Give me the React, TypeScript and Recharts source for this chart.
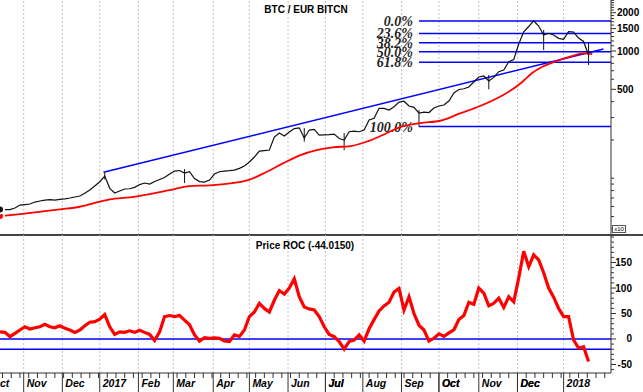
import React from 'react';
import { ComposedChart, Line, XAxis, YAxis, ReferenceLine } from 'recharts';

// x = bar number (one bar ~ one day), sampled every 4 bars
const STEP = 4;

const close = [
  56.9, 56.7, 56.7, 58.3, 61.5, 62.1, 62.7, 65.0, 66.2, 67.4,
  67.9, 67.4, 68.3, 68.8, 69.9, 71.2, 72.5, 76.1, 80.8, 86.8,
  93.9, 104.1, 83.3, 76.5, 79.3, 82.3, 82.7, 84.8, 89.2, 91.7,
  90.0, 94.2, 97.7, 101.3, 107.9, 113.9, 115.0, 109.9, 112.5, 99.5,
  94.2, 93.3, 96.8, 107.9, 112.5, 113.9, 114.6, 116.0, 119.6, 124.7,
  134.1, 146.8, 163.6, 165.1, 166.6, 210.8, 226.6, 214.7, 230.8, 245.9,
  249.0, 207.0, 239.3, 242.4, 218.6, 219.6, 220.6, 222.6, 205.2, 199.7,
  232.1, 235.0, 232.1, 239.3, 286.8, 295.8, 354.4, 354.4, 343.8, 364.9,
  397.2, 403.0, 369.5, 360.9, 325.5, 331.4, 328.5, 356.4, 369.5, 376.3,
  404.5, 467.6, 498.1, 505.4, 521.2, 570.6, 624.7, 636.1, 581.1, 620.4,
  687.6, 709.0, 823.9, 857.4, 1135, 1418, 1558, 1730, 1573, 1336,
  1378, 1336, 1258, 1236, 1418, 1411, 1265, 1188, 930,
];

const roc = [
  14, 13, 4.5, 11, 17.6, 24, 19.6, 22, 24, 29,
  24, 22, 26, 21, 17.6, 13, 17.6, 26, 33, 34,
  39, 48, 24, 9, 14, 13, 16, 13, 17, 13,
  9, -3, 14, 44, 46, 44, 46, 37, 28, 8,
  -4, 2.5, 1.4, 2, 1.4, -4, -5, 8, 5, 17.6,
  44, 53, 70, 60, 53, 76, 95, 88, 100, 118,
  83, 63, 59, 57, 44, 24, 9, 4.5, -5, -20,
  -5, -2, 8, -4, 20, 38, 55, 65, 72, 92,
  99, 57, 83, 50, 27, 17.6, -4, 1.4, 10, 5,
  12, 18, 38, 46, 72, 68, 100, 90, 65, 70,
  80, 62, 83, 73, 120, 172, 142, 165, 155, 130,
  100, 82, 60, 44, 44, -2, -18, -15, -44,
];

// moving average (red), read at its own bars
const maBars = [0, 16, 32, 48, 64, 80, 88, 104, 120, 136, 152, 168, 199, 214, 227, 241, 254, 267, 281, 294, 307, 321, 337, 353, 369, 385, 401, 411, 419, 427, 435, 447, 457, 468, 475];
const maValues = [50.4, 52.3, 54.5, 56.9, 59.7, 65.4, 68.3, 70.8, 75.1, 80.8, 86.8, 87.9, 96.8, 112.5, 131.0, 152.2, 166.6, 175.0, 179.1, 193.6, 218.6, 252.6, 271.6, 283.1, 323.7, 369.5, 437.3, 500.0, 573.7, 675.2, 752.8, 838.9, 902.1, 959.2, 947];

// visible long bars (high-low wicks)
const wickBars = [84, 148, 244, 276, 336, 392, 436, 472];
const wickLow = [98, 91.7, 193.6, 166.6, 255, 500, 1018, 776];
const wickHigh = [111, 118, 248, 226.6, 344, 648, 1463, 1156];

// trend line through the January 2017 high
const trendBars = [83, 484];
const trendValues = [111.3, 1037];

// Fibonacci retracement between the September low and the December high
const fibHigh = 1722;
const fibLow = 255;
const fibStartBar = 336;
const fibRatios = [0, 0.236, 0.382, 0.5, 0.618, 1];
const fibLabels = ['0.0%', '23.6%', '38.2%', '50.0%', '61.8%', '100.0%'];

const monthBars = [-9, 19, 50, 80, 111, 139, 171, 200, 231, 261, 291, 322, 352, 384, 415, 452];
const monthLabels = ['Oct', 'Nov', 'Dec', '2017', 'Feb', 'Mar', 'Apr', 'May', 'Jun', 'Jul', 'Aug', 'Sep', 'Oct', 'Nov', 'Dec', '2018'];

const priceLabels = [500, 1000, 1500, 2000];
const priceMinor = [40, 50, 60, 70, 80, 90, 100, 200, 300, 400, 600, 700, 800, 900, 1100, 1200, 1300, 1400, 1600, 1700, 1800, 1900, 2100, 2200, 2300, 2400, 2500];
const rocLabels = [-50, 0, 50, 100, 150];
const rocLevels = [0, -20];

const X_DOMAIN: [number, number] = [0, 490];
const W = 643;
const TOP_H = 235;
const BOT_H = 157;
const AXIS_W = 32;

const sans = '"Liberation Sans", Arial, sans-serif';
const serif = '"Liberation Serif", "Times New Roman", serif';
const BLUE = '#0000ff';
const RED = '#ff0000';
const GRID = '#c4c4c4';

const priceData = close.map((c, i) => ({ bar: i * STEP, close: c }));
const rocData = roc.map((r, i) => ({ bar: i * STEP, roc: r }));
const maData = maBars.map((b, i) => ({ bar: b, ma: maValues[i] }));

const weekTicks: number[] = [];
for (let b = 2; b <= 488; b += 7) weekTicks.push(b);
const xTicks = [...monthBars, ...weekTicks].sort((a, b) => a - b);

const rocTicks: number[] = [];
for (let v = -60; v <= 200; v += 10) rocTicks.push(v);

const PriceTick = ({ x, y, payload }: any) => {
  const major = priceLabels.includes(payload.value);
  return (
    <g>
      <line x1={x} x2={x + (major ? 5 : 3)} y1={y} y2={y} stroke="#333" />
      {major && (
        <text x={x + 6} y={y} dy={3.5} fontSize={10} fontWeight="bold" fontFamily={sans} fill="#000">
          {payload.value}
        </text>
      )}
    </g>
  );
};

const RocTick = ({ x, y, payload }: any) => {
  const major = rocLabels.includes(payload.value);
  return (
    <g>
      <line x1={x} x2={x + (major ? 5 : 3)} y1={y} y2={y} stroke="#333" />
      {major && (
        <text x={x + 21} y={y} dy={3.5} textAnchor="end" fontSize={10} fontWeight="bold" fontFamily={sans} fill="#000">
          {payload.value}
        </text>
      )}
    </g>
  );
};

const DateTick = ({ x, y, payload }: any) => {
  const idx = monthBars.indexOf(payload.value);
  return (
    <g>
      <line x1={x} x2={x} y1={y} y2={y + (idx >= 0 ? 19 : 5)} stroke="#333" />
      {idx >= 0 && (
        <text x={x + 3} y={y + 14} fontSize={10.5} fontWeight="bold" fontStyle="italic" fontFamily={sans} fill="#000">
          {monthLabels[idx]}
        </text>
      )}
    </g>
  );
};

const fibLabel = (text: string) => (props: any) => {
  const vb = props.viewBox || {};
  return (
    <text
      x={vb.x - 6}
      y={vb.y}
      dy={5}
      textAnchor="end"
      fontSize={14}
      fontWeight="bold"
      fontStyle="italic"
      fontFamily={serif}
      fill="#222"
    >
      {text}
    </text>
  );
};

const monthGrid = () =>
  monthBars.map((b) => <ReferenceLine key={'g' + b} x={b} stroke={GRID} strokeDasharray="2 2" />);

export default function App() {
  return (
    <div style={{ position: 'absolute', left: 0, top: 0, width: W, height: 392, background: '#fff', overflow: 'hidden' }}>
      <ComposedChart width={W} height={TOP_H} data={priceData} margin={{ top: 0, right: 0, left: 0, bottom: 0 }}>
        <XAxis type="number" dataKey="bar" domain={X_DOMAIN} allowDataOverflow hide />
        <YAxis
          orientation="right"
          width={AXIS_W}
          scale="log"
          domain={[35.8, 2518]}
          allowDataOverflow
          ticks={[...priceLabels, ...priceMinor]}
          interval={0}
          tickSize={0}
          tickMargin={0}
          tickLine={false}
          axisLine={{ stroke: '#333' }}
          tick={<PriceTick />}
        />
        {monthGrid()}
        <ReferenceLine
          segment={[{ x: trendBars[0], y: trendValues[0] }, { x: trendBars[1], y: trendValues[1] }]}
          stroke={BLUE}
          strokeWidth={1.5}
          ifOverflow="visible"
        />
        {fibRatios.map((r, i) => {
          const level = fibHigh - r * (fibHigh - fibLow);
          return (
            <ReferenceLine
              key={fibLabels[i]}
              segment={[{ x: fibStartBar, y: level }, { x: X_DOMAIN[1], y: level }]}
              stroke={BLUE}
              strokeWidth={1.5}
              ifOverflow="visible"
              label={fibLabel(fibLabels[i])}
            />
          );
        })}
        {wickBars.map((b, i) => (
          <ReferenceLine
            key={'w' + b}
            segment={[{ x: b, y: wickLow[i] }, { x: b, y: wickHigh[i] }]}
            stroke="#111"
            strokeWidth={1}
            ifOverflow="visible"
          />
        ))}
        <Line
          data={maData}
          dataKey="ma"
          type="monotone"
          stroke={RED}
          strokeWidth={1.8}
          dot={false}
          isAnimationActive={false}
        />
        <Line dataKey="close" type="linear" stroke="#111" strokeWidth={1.2} dot={false} isAnimationActive={false} />
      </ComposedChart>

      <div style={{ position: 'absolute', left: 0, top: 234, width: W, height: 2, background: '#444' }} />

      <div style={{ position: 'absolute', left: 0, top: TOP_H }}>
        <ComposedChart width={W} height={BOT_H} data={rocData} margin={{ top: 0, right: 0, left: 0, bottom: 0 }}>
          <XAxis
            type="number"
            dataKey="bar"
            domain={X_DOMAIN}
            allowDataOverflow
            ticks={xTicks}
            interval={0}
            height={19}
            tickSize={0}
            tickMargin={0}
            tickLine={false}
            axisLine={{ stroke: '#333' }}
            tick={<DateTick />}
          />
          <YAxis
            orientation="right"
            width={AXIS_W}
            domain={[-66.7, 204]}
            allowDataOverflow
            ticks={rocTicks}
            interval={0}
            tickSize={0}
            tickMargin={0}
            tickLine={false}
            axisLine={{ stroke: '#333' }}
            tick={<RocTick />}
          />
          {monthGrid()}
          {rocLevels.map((v) => (
            <ReferenceLine key={v} y={v} stroke={BLUE} strokeWidth={1.5} />
          ))}
          <Line dataKey="roc" type="linear" stroke={RED} strokeWidth={3.2} dot={false} isAnimationActive={false} />
        </ComposedChart>
      </div>

      <div style={{ position: 'absolute', left: 226, width: 160, top: 4, textAlign: 'center', font: `bold 10px ${sans}` }}>
        BTC / EUR BITCN
      </div>
      <div style={{ position: 'absolute', left: 205, width: 200, top: 240, textAlign: 'center', font: `bold 10px ${sans}` }}>
        Price ROC (-44.0150)
      </div>
      <div
        style={{
          position: 'absolute',
          left: 612,
          top: 225,
          width: 14,
          height: 8,
          border: '1px solid #555',
          boxSizing: 'border-box',
          font: `6px ${sans}`,
          lineHeight: '6px',
          textAlign: 'center',
          background: '#fff',
        }}
      >
        x10
      </div>
    </div>
  );
}
